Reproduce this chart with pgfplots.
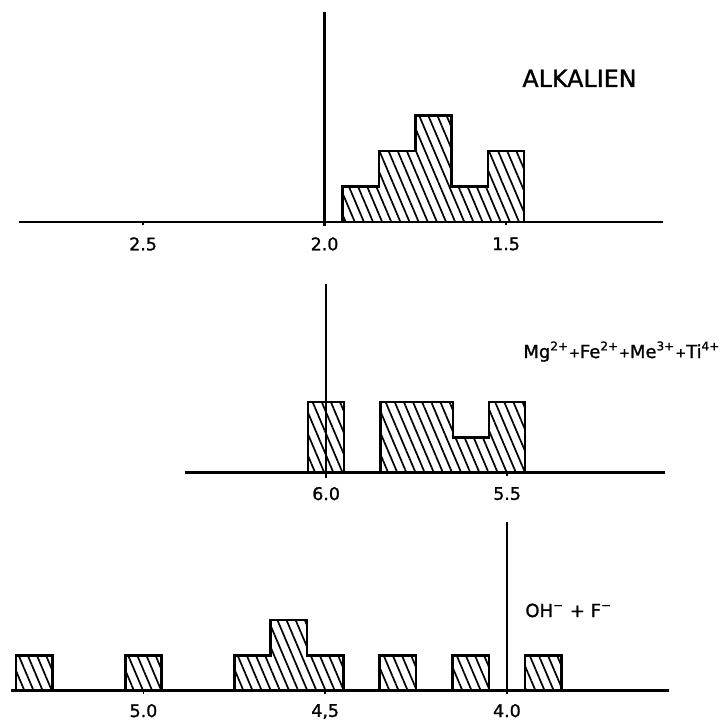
\documentclass[border=0pt]{standalone}
\usepackage{fontspec}
\setmainfont{DejaVu Sans}[RawFeature={embolden=1.2}]
\usepackage{pgfplots}
\pgfplotsset{compat=1.18}
\usetikzlibrary{patterns.meta}
\newcommand{\smallplus}{{\fontsize{6.5}{6.5}\selectfont\raisebox{0.3pt}{+}}}
\tikzset{hatch/.style={draw=black, line width=1.25pt, pattern={Lines[angle=-67, distance=4.2pt, line width=0.85pt]}, pattern color=black}}
\pgfplotsset{panel/.style={
  axis x line=bottom, axis y line=none, x dir=reverse,
  x axis line style={-, line width=1.3pt},
  ymin=0,
  major tick length=1.5pt, tick align=outside, tick style={line width=0.9pt, black},
  xticklabel style={font=\fontsize{8.7}{9}\selectfont, inner sep=0pt, anchor=north},
  ytick=\empty,
  anchor=south west,
  clip=false,
}}
\begin{document}
\begin{tikzpicture}
\useasboundingbox (0,0) rectangle (360.5pt,359.5pt);
% Panel 1: Alkalien
\begin{axis}[panel, at={(9.65pt,248.5pt)}, x=181.5pt, y=17.75pt,
  xmin=1.068, xmax=2.841, ymax=6,
  xtick={1.5,2.0,2.5}, xticklabels={1.5,2.0,2.5},
  xticklabel style={yshift=-6pt}]
\addplot[hatch, const plot] coordinates {(1.95,1) (1.85,2) (1.75,3) (1.65,1) (1.55,2) (1.45,2)} \closedcycle;
\addplot[black, line width=1.2pt] coordinates {(2.0,-0.1) (2.0,5.92)};
\end{axis}
% Panel 2
\begin{axis}[panel, at={(92.65pt,123.15pt)}, x=181pt, y=17.65pt,
  xmin=5.063, xmax=6.389, ymax=6,
  xtick={5.5,6.0}, xticklabels={5.5,6.0},
  xticklabel style={yshift=-5.5pt}]
\addplot[hatch, const plot] coordinates {(6.05,2) (5.95,2)} \closedcycle;
\addplot[hatch, const plot] coordinates {(5.85,2) (5.75,2) (5.65,1) (5.55,2) (5.45,2)} \closedcycle;
\addplot[black, line width=1.2pt] coordinates {(6.0,-0.15) (6.0,5.34)};
\end{axis}
% Panel 3
\begin{axis}[panel, at={(5.75pt,14.15pt)}, x=181.75pt, y=17.7pt,
  xmin=3.554, xmax=5.363, ymax=5,
  xtick={4.0,4.5,5.0}, xticklabels={4.0,{4,5},5.0},
  xticklabel style={yshift=-5pt}]
\addplot[hatch, const plot] coordinates {(5.35,1) (5.25,1)} \closedcycle;
\addplot[hatch, const plot] coordinates {(5.05,1) (4.95,1)} \closedcycle;
\addplot[hatch, const plot] coordinates {(4.75,1) (4.65,2) (4.55,1) (4.45,1)} \closedcycle;
\addplot[hatch, const plot] coordinates {(4.35,1) (4.25,1)} \closedcycle;
\addplot[hatch, const plot] coordinates {(4.15,1) (4.05,1)} \closedcycle;
\addplot[hatch, const plot] coordinates {(3.95,1) (3.85,1)} \closedcycle;
\addplot[black, line width=1.2pt] coordinates {(4.0,0) (4.0,4.76)};
\end{axis}
% Labels
\node[anchor=base west, inner sep=0pt, font=\fontsize{11.9}{12}\selectfont] at (261pt,316pt) {ALKALIEN};
\node[anchor=base west, inner sep=0pt, font=\fontsize{9}{10}\selectfont] at (261.5pt,180.5pt)
  {Mg\textsuperscript{2+}\smallplus Fe\textsuperscript{2+}\smallplus Me\textsuperscript{3+}\smallplus Ti\textsuperscript{4+}};
\node[anchor=base west, inner sep=0pt, font=\fontsize{9}{10}\selectfont] at (262.5pt,51pt)
  {OH\textsuperscript{−} + F\textsuperscript{−}};
\end{tikzpicture}
\end{document}
